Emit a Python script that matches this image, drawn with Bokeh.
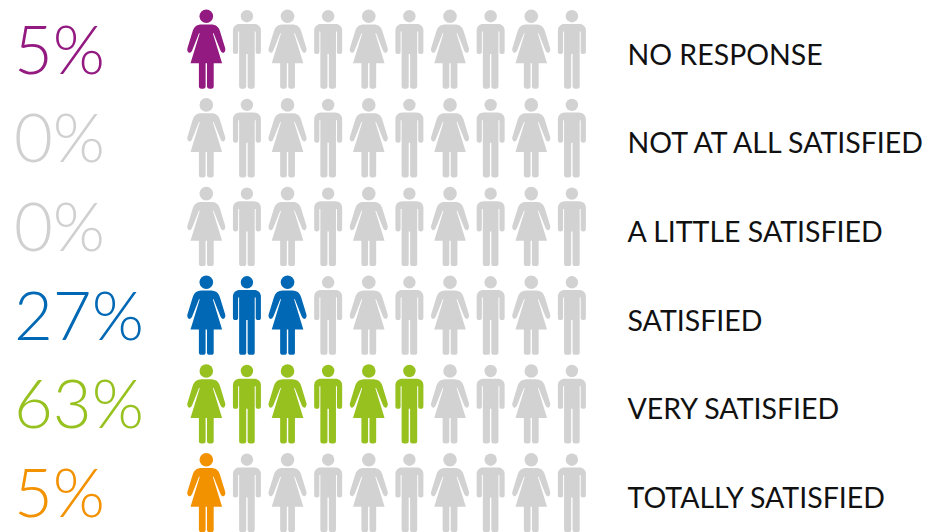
import numpy as np
from bokeh.plotting import figure
from bokeh.models import ColumnDataSource, Range1d
from bokeh.embed import file_html
from bokeh.resources import INLINE
from bokeh.core.properties import value

# Survey results, top row first
categories = ["NO RESPONSE", "NOT AT ALL SATISFIED", "A LITTLE SATISFIED",
              "SATISFIED", "VERY SATISFIED", "TOTALLY SATISFIED"]
percent_labels = ["5%", "0%", "0%", "27%", "63%", "5%"]
filled_icons = [1, 0, 0, 3, 6, 1]
row_colors = ["#931A80", "#D0D0D0", "#D0D0D0", "#0068B4", "#96C11F", "#F39200"]
ICON_GREY = "#D2D2D2"
ICONS_PER_ROW = 10

LEFT, COL_STEP = 205.8, 40.62
ROW_STEP = 88.7


def rounded(points, radius, steps=5):
    """Replace each corner of a polygon with a small quadratic curve."""
    pts = np.asarray(points, dtype=float)
    out = []
    n = len(pts)
    for i in range(n):
        prev_p, p, next_p = pts[i - 1], pts[i], pts[(i + 1) % n]
        a, b = prev_p - p, next_p - p
        ra = min(radius[i] if np.ndim(radius) else radius, np.linalg.norm(a) / 2)
        rb = min(radius[i] if np.ndim(radius) else radius, np.linalg.norm(b) / 2)
        s = p + a / (np.linalg.norm(a) or 1) * ra
        e = p + b / (np.linalg.norm(b) or 1) * rb
        for t in np.linspace(0, 1, steps):
            out.append((1 - t) ** 2 * s + 2 * t * (1 - t) * p + t ** 2 * e)
    return np.array(out)


# Pictogram outlines, relative to the icon centre and the top of its row
WOMAN_BODY = rounded([(-8, 24), (8, 24), (12.5, 27), (19.4, 49.5), (17.5, 52.8), (14.8, 51.5),
                      (7.2, 32.5), (6.6, 33), (15.8, 62.8), (-15.8, 62.8), (-6.6, 33), (-7.2, 32.5),
                      (-14.8, 51.5), (-17.5, 52.8), (-19.4, 49.5), (-12.5, 27)],
                     [3, 3, 4, 2, 2, 2, 0, 0, 0, 0, 0, 0, 2, 2, 2, 4])
WOMAN_LEG_L = rounded([(-7.4, 62), (-0.7, 62), (-0.7, 88.2), (-7.4, 88.2)], [0, 0, 2.5, 2.5])
WOMAN_LEG_R = rounded([(0.7, 62), (7.4, 62), (7.4, 88.2), (0.7, 88.2)], [0, 0, 2.5, 2.5])
MAN_BODY = rounded([(-10, 23.4), (10, 23.4), (14, 27), (14, 53.5), (8.8, 53.5), (8.8, 31), (7.8, 31),
                    (7.8, 88.2), (0.7, 88.2), (0.7, 53.5), (-0.7, 53.5), (-0.7, 88.2), (-7.8, 88.2),
                    (-7.8, 31), (-8.8, 31), (-8.8, 53.5), (-14, 53.5), (-14, 27)],
                   [3, 3, 3, 2.4, 2.4, 0, 0, 2.5, 2.5, 0, 0, 2.5, 2.5, 0, 0, 2.4, 2.4, 3])

xs, ys, fills = [], [], []
hx, hy, hr, hc = [], [], [], []
for row in range(len(categories)):
    for col in range(ICONS_PER_ROW):
        cx = LEFT + col * COL_STEP
        top = row * ROW_STEP
        color = row_colors[row] if col < filled_icons[row] else ICON_GREY
        shapes = [MAN_BODY] if col % 2 else [WOMAN_BODY, WOMAN_LEG_L, WOMAN_LEG_R]
        for shape in shapes:
            xs.append((shape[:, 0] + cx).tolist())
            ys.append((shape[:, 1] + top).tolist())
            fills.append(color)
        hx.append(cx)
        hy.append(top + 15.7)
        hr.append(6.2 if col % 2 else 6.8)
        hc.append(color)

p = figure(width=930, height=532, output_backend="svg", toolbar_location=None,
           x_range=Range1d(0, 930), y_range=Range1d(532, 0),
           min_border=0, outline_line_color=None, background_fill_color="white")
p.axis.visible = False
p.grid.visible = False

p.patches("xs", "ys", fill_color="fill", line_color=None,
          source=ColumnDataSource(dict(xs=xs, ys=ys, fill=fills)))
p.circle("x", "y", radius="r", fill_color="c", line_color=None,
         source=ColumnDataSource(dict(x=hx, y=hy, r=hr, c=hc)))

p.text(x=[13.5] * 6, y=[47 + i * ROW_STEP for i in range(6)], text=percent_labels,
       text_color=row_colors, text_font=value("Lato Light"), text_font_size="67px",
       text_baseline="alphabetic", text_align="left")
p.text(x=[627] * 6, y=[53 + i * ROW_STEP for i in range(6)], text=categories,
       text_color="#111111", text_font=value("Lato"), text_font_size="28.5px",
       text_baseline="alphabetic", text_align="left")

open("out.html", "w").write(file_html(p, INLINE))
